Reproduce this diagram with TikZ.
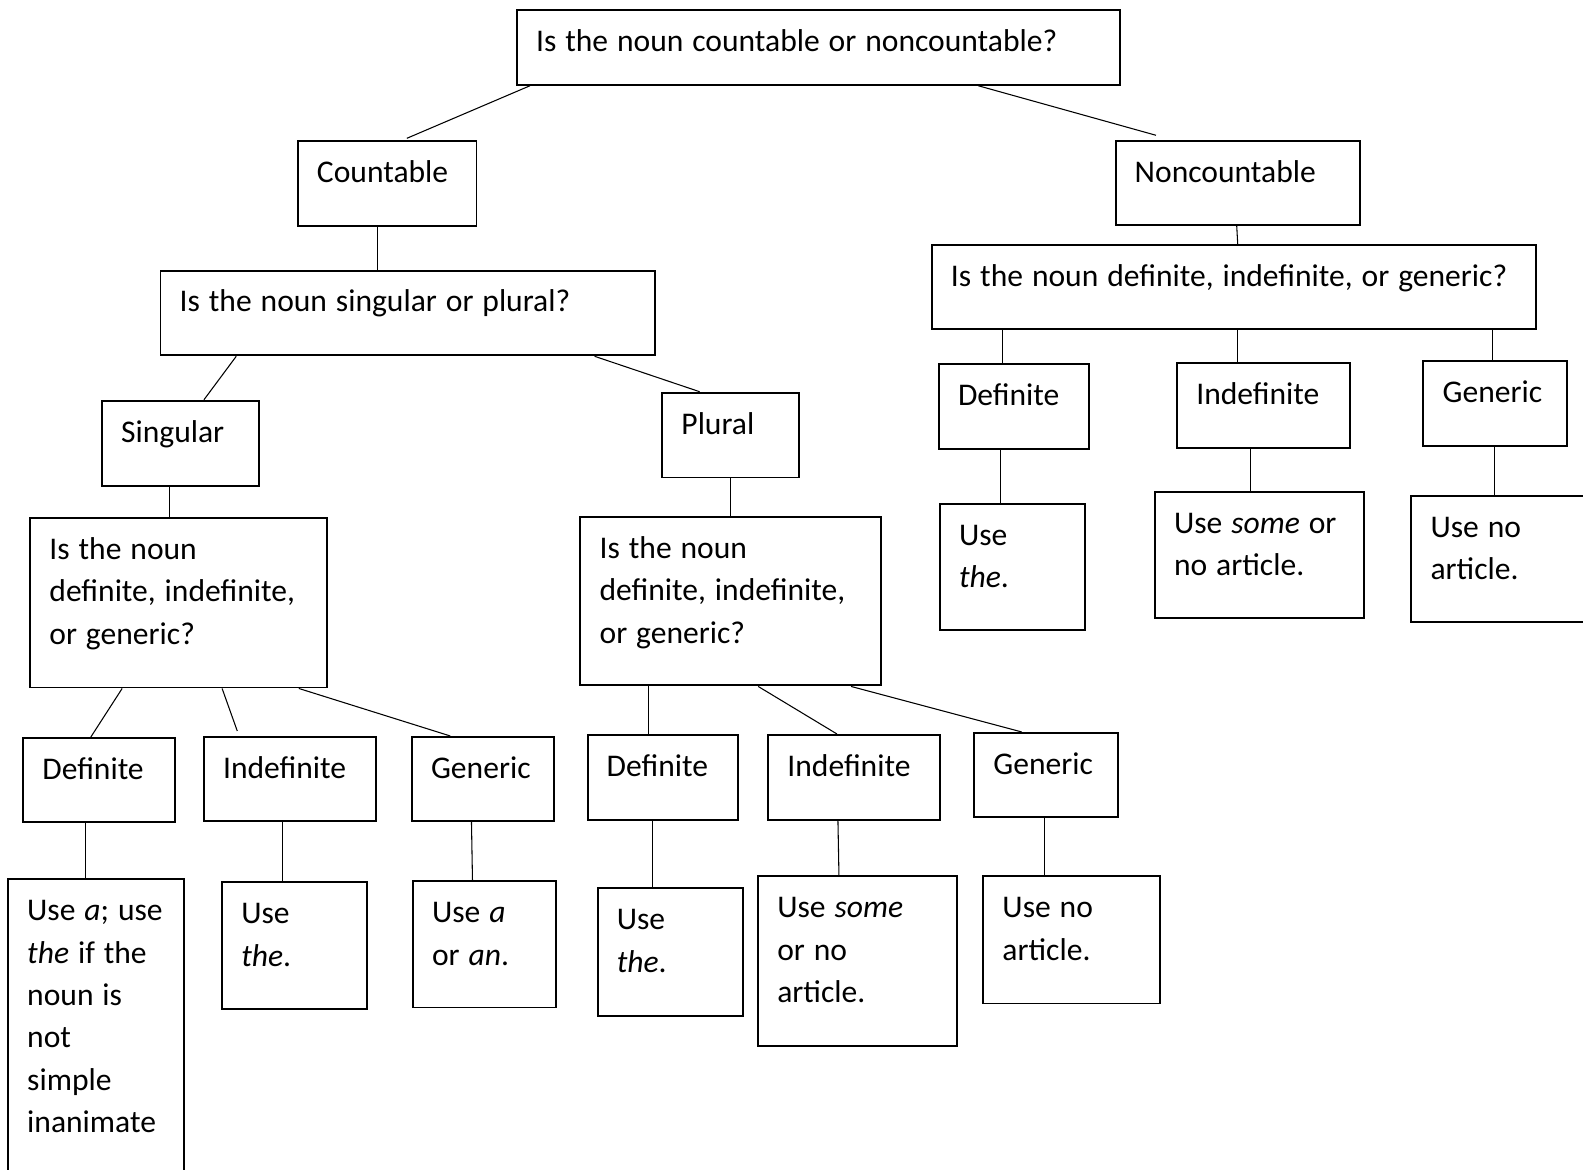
\documentclass[tikz,border=0pt]{standalone}
\usepackage{fontspec}
\setmainfont{Carlito}[WordSpace=1.25]
\usepackage{tikz}
\usetikzlibrary{positioning}

\newlength{\px}
\setlength{\px}{0.02cm}

\begin{document}
\begin{tikzpicture}[
    x=\px, y=-\px,
    font=\fontsize{17.8pt}{23.9pt}\selectfont,
    block/.style 2 args={
        rectangle,
        draw=black,
        line width=1.1pt,
        anchor=north west,
        inner xsep=19\px,
        inner ysep=0pt,
        align=flush left,
        text width=#1\px,
        text height=41\px,
        text depth=#2\px
    },
    link/.style={
        draw=black,
        line width=0.6pt
    }
]
\clip (0,0) rectangle (1568,1158);

% Top question
\node[block={559}{33}] (top) at (511,9) {Is the noun countable or noncountable?};
\node[block={139}{43}] (cnt) at (294,139) {Countable};
\node[block={204}{42}] (ncnt) at (1104,139) {Noncountable};

% Countable branch
\node[block={452}{43}] (sp) at (158,267) {Is the noun singular or plural?};
\node[block={118}{43}] (sing) at (100,396) {Singular};
\node[block={97}{43}] (plur) at (655,388) {Plural};

\node[block={256}{127}] (lq) at (29,512) {Is the noun\\definite, indefinite,\\or generic?};
\node[block={260}{126}] (mq) at (574,511) {Is the noun\\definite, indefinite,\\or generic?};

\node[block={112}{42}] (ldef) at (22,730) {Definite};
\node[block={132}{42}] (lind) at (201,729) {Indefinite};
\node[block={103}{42}] (lgen) at (407,729) {Generic};

\node[block={136}{309}] (lans1) at (7,870) {Use \textit{a}; use\\\textit{the} if the\\noun is\\not\\simple\\inanimate};
\node[block={106}{84}] (lans2) at (219,873) {Use\\\textit{the}.};
\node[block={104}{84}] (lans3) at (408,872) {Use \textit{a}\\or \textit{an}.};

\node[block={111}{43}] (mdef) at (581,727) {Definite};
\node[block={132}{43}] (mind) at (760,727) {Indefinite};
\node[block={104}{42}] (mgen) at (964,725) {Generic};

\node[block={106}{85}] (mans1) at (591,879) {Use\\\textit{the}.};
\node[block={159}{127}] (mans2) at (750,867) {Use \textit{some}\\or no\\article.};
\node[block={137}{85}] (mans3) at (973,867) {Use no\\article.};

% Noncountable branch
\node[block={560}{42}] (rq) at (922,242) {Is the noun definite, indefinite, or generic?};

\node[block={111}{43}] (rdef) at (929,360) {Definite};
\node[block={133}{43}] (rind) at (1165,359) {Indefinite};
\node[block={104}{43}] (rgen) at (1409,357) {Generic};

\node[block={106}{84}] (rans1) at (930,498) {Use\\\textit{the}.};
\node[block={169}{84}] (rans2) at (1143,486) {Use \textit{some} or\\no article.};
\node[block={212}{84}] (rans3) at (1397,490) {Use no\\article.};

% Connectors
\draw[link] ([xshift=14\px]top.south west) -- ([xshift=109\px,yshift=2\px]cnt.north west);
\draw[link] ([xshift=458\px]top.south west) -- ([xshift=41\px,yshift=5\px]ncnt.north west);
\draw[link] ([xshift=80\px]cnt.south west) -- ([xshift=216\px]sp.north west);
\draw[link] ([xshift=121\px]ncnt.south west) -- ([xshift=304\px]rq.north west);

\draw[link] ([xshift=76\px]sp.south west) -- ([xshift=102\px]sing.north west);
\draw[link] ([xshift=431\px]sp.south west) -- ([xshift=38\px]plur.north west);
\draw[link] ([xshift=68\px]sing.south west) -- ([xshift=139\px]lq.north west);
\draw[link] ([xshift=69\px]plur.south west) -- ([xshift=150\px]mq.north west);

\draw[link] ([xshift=92\px]lq.south west) -- ([xshift=68\px]ldef.north west);
\draw[link] ([xshift=191\px]lq.south west) -- ([xshift=34\px,yshift=5\px]lind.north west);
\draw[link] ([xshift=267\px]lq.south west) -- ([xshift=39\px]lgen.north west);
\draw[link] ([xshift=63\px]ldef.south west) -- ([xshift=78\px]lans1.north west);
\draw[link] ([xshift=79\px]lind.south west) -- ([xshift=61\px]lans2.north west);
\draw[link] ([xshift=60\px]lgen.south west) -- ([xshift=60\px]lans3.north west);

\draw[link] ([xshift=68\px]mq.south west) -- ([xshift=61\px]mdef.north west);
\draw[link] ([xshift=177\px]mq.south west) -- ([xshift=69\px]mind.north west);
\draw[link] ([xshift=269\px]mq.south west) -- ([xshift=48\px]mgen.north west);
\draw[link] ([xshift=65\px]mdef.south west) -- ([xshift=55\px]mans1.north west);
\draw[link] ([xshift=70\px]mind.south west) -- ([xshift=81\px]mans2.north west);
\draw[link] ([xshift=71\px]mgen.south west) -- ([xshift=62\px]mans3.north west);

\draw[link] ([xshift=71\px]rq.south west) -- ([xshift=64\px]rdef.north west);
\draw[link] ([xshift=304\px]rq.south west) -- ([xshift=61\px]rind.north west);
\draw[link] ([xshift=556\px]rq.south west) -- ([xshift=69\px]rgen.north west);
\draw[link] ([xshift=62\px]rdef.south west) -- ([xshift=61\px]rans1.north west);
\draw[link] ([xshift=74\px]rind.south west) -- ([xshift=96\px]rans2.north west);
\draw[link] ([xshift=71\px]rgen.south west) -- ([xshift=83\px]rans3.north west);

\end{tikzpicture}
\end{document}
